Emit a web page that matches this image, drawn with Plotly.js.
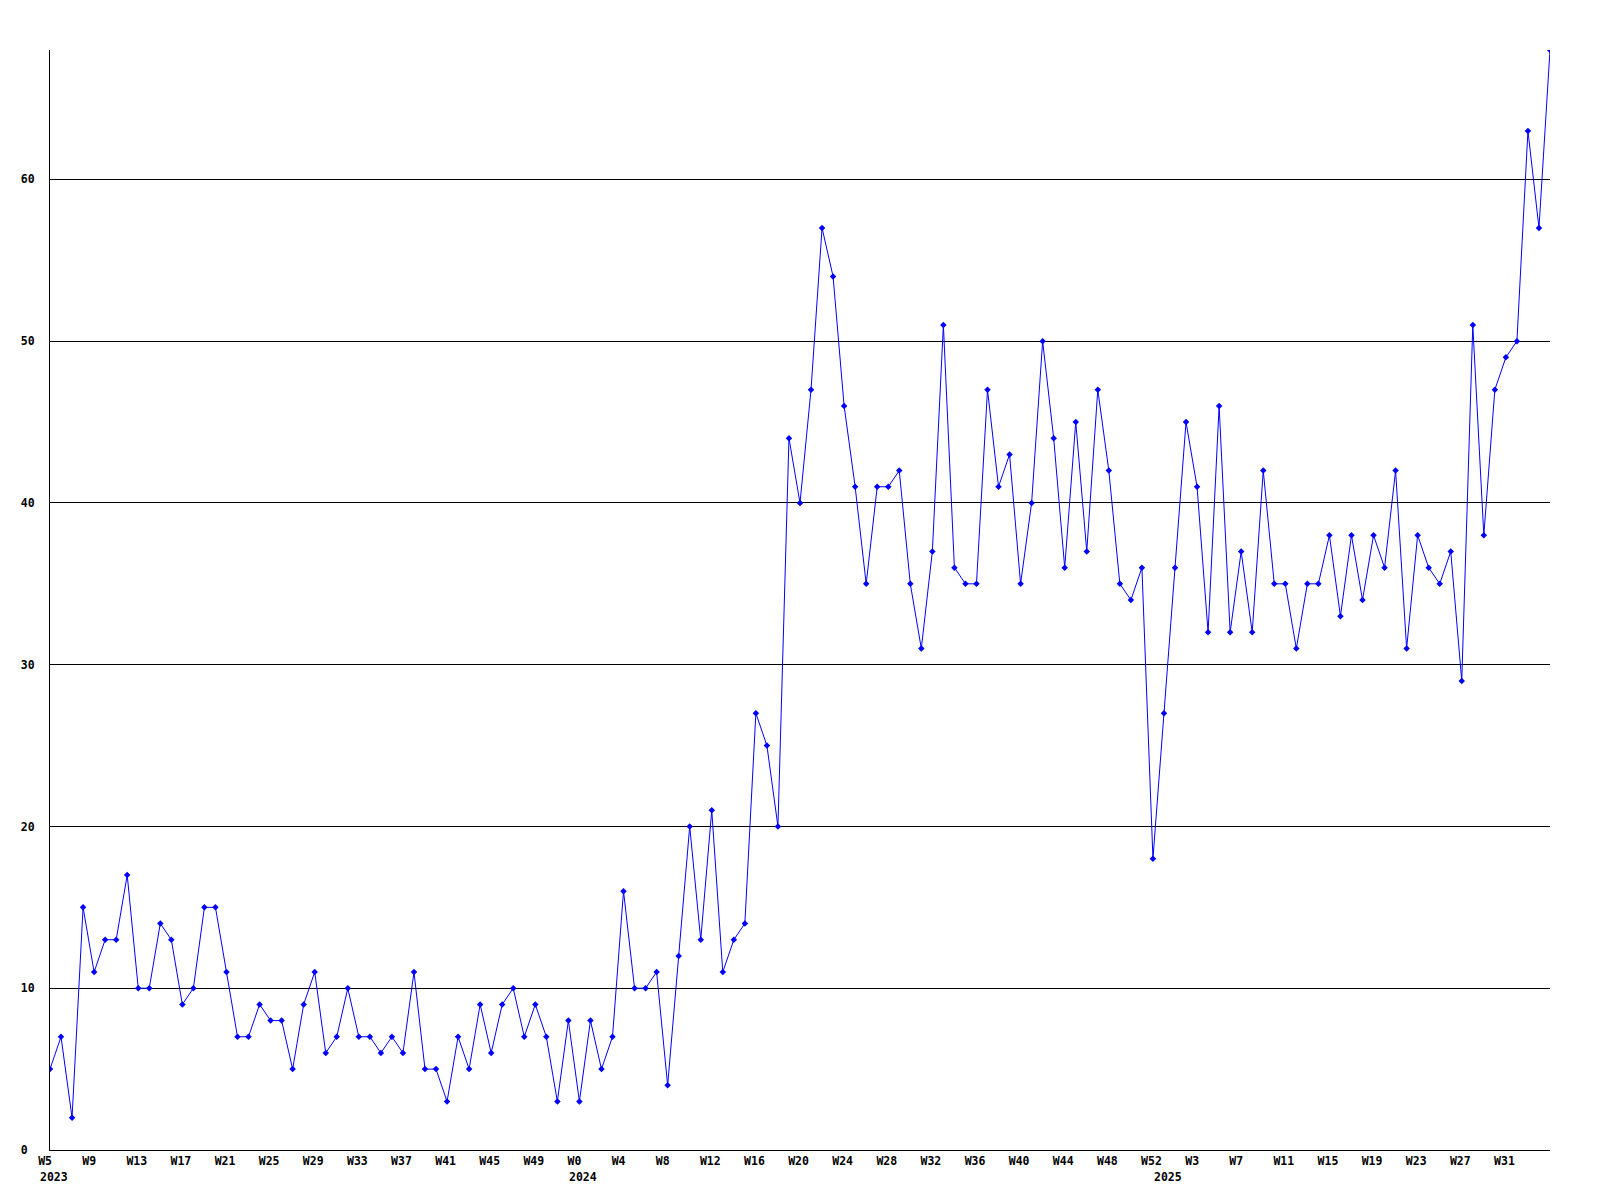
<!DOCTYPE html>
<html>
<head>
<meta charset="utf-8">
<script src="https://cdn.plot.ly/plotly-3.0.1.min.js"></script>
<style>
  html, body { margin: 0; padding: 0; background: #fff; }
  #chart { width: 1600px; height: 1200px; }
</style>
</head>
<body>
<div id="chart"></div>
<script>
// Weeks covered by the series (one point per week)
const weeks2023 = [5,6,7,8,9,10,11,12,13,14,15,16,17,18,19,20,21,22,23,24,25,26,27,28,29,30,31,32,33,34,35,36,37,38,39,40,41,42,43,44,45,46,47,48,49,50,51,52];
const weeks2024 = [0,1,2,3,4,5,6,7,8,9,10,11,12,13,14,15,16,17,18,19,20,21,22,23,24,25,26,27,28,29,30,31,32,33,34,35,36,37,38,39,40,41,42,43,44,45,46,47,48,49,50,51,52];
const weeks2025 = [0,1,2,3,4,5,6,7,8,9,10,11,12,13,14,15,16,17,18,19,20,21,22,23,24,25,26,27,28,29,30,31,32,33,34,35];

// Weekly counts
const values = [
  5,7,2,15,11,13,13,17,10,10,14,13,9,10,15,15,11,7,7,9,8,8,5,9,11,6,7,10,7,7,6,7,6,11,5,5,3,7,5,9,6,9,10,7,9,7,3,8,
  3,8,5,7,16,10,10,11,4,12,20,13,21,11,13,14,27,25,20,44,40,47,57,54,46,41,35,41,41,42,35,31,37,51,36,35,35,47,41,43,35,40,50,44,36,45,37,47,42,35,34,36,
  18,27,36,45,41,32,46,32,37,32,42,35,35,31,35,35,38,33,38,34,38,36,42,31,38,36,35,37,29,51,38,47,49,50,63,57,68
];

// Labelled weeks on the x axis
const tickWeeks = ['2023-W5','2023-W9','2023-W13','2023-W17','2023-W21','2023-W25','2023-W29','2023-W33','2023-W37','2023-W41','2023-W45','2023-W49',
  '2024-W0','2024-W4','2024-W8','2024-W12','2024-W16','2024-W20','2024-W24','2024-W28','2024-W32','2024-W36','2024-W40','2024-W44','2024-W48','2024-W52',
  '2025-W3','2025-W7','2025-W11','2025-W15','2025-W19','2025-W23','2025-W27','2025-W31'];
const tickLabels = ['W5','W9','W13','W17','W21','W25','W29','W33','W37','W41','W45','W49',
  'W0','W4','W8','W12','W16','W20','W24','W28','W32','W36','W40','W44','W48','W52',
  'W3','W7','W11','W15','W19','W23','W27','W31'];

// Year labels and the first week of each year
const yearStarts = ['2023-W5','2024-W0','2025-W0'];
const yearLabels = ['2023','2024','2025'];

const yTickVals = [0,10,20,30,40,50,60];
const yTickLabels = ['0','10','20','30','40','50','60'];

const categories = [].concat(
  weeks2023.map(w => '2023-W' + w),
  weeks2024.map(w => '2024-W' + w),
  weeks2025.map(w => '2025-W' + w)
);

const NB = '\u00a0';
const pad = (s, n) => s + NB.repeat(Math.max(0, n - s.length));

const FONT = { family: 'DejaVu Sans Mono, Liberation Mono, monospace', size: 11.5, color: '#000000', weight: 'bold' };

const trace = {
  type: 'scatter',
  mode: 'lines+markers',
  x: categories,
  y: values,
  line: { color: '#0000ff', width: 1 },
  marker: { color: '#0000ff', symbol: 'diamond', size: 5 },
  hoverinfo: 'skip'
};

const annotations = yearStarts.map((c, i) => ({
  x: c, xref: 'x', y: 0, yref: 'paper',
  text: yearLabels[i], showarrow: false,
  xanchor: 'left', yanchor: 'top',
  xshift: -12, yshift: -18,
  font: FONT
}));

const layout = {
  width: 1600, height: 1200,
  margin: { l: 50, r: 50, t: 50, b: 50 },
  paper_bgcolor: '#ffffff', plot_bgcolor: '#ffffff',
  showlegend: false,
  font: FONT,
  xaxis: {
    type: 'category',
    categoryorder: 'array', categoryarray: categories,
    range: [0, categories.length - 1],
    showgrid: false, zeroline: false,
    showline: true, linecolor: '#000000', linewidth: 1,
    ticks: '',
    tickmode: 'array', tickvals: tickWeeks, ticktext: tickLabels.map(s => pad(s, 4)),
    ticklabelshift: 2,
    tickfont: FONT,
    fixedrange: true
  },
  yaxis: {
    range: [0, 68],
    showgrid: true, gridcolor: '#000000', gridwidth: 1,
    zeroline: false,
    showline: true, linecolor: '#000000', linewidth: 1,
    ticks: '',
    tickmode: 'array', tickvals: yTickVals, ticktext: yTickLabels.map(s => pad(s, 2)),
    ticklabelstandoff: 12,
    tickfont: FONT,
    fixedrange: true
  },
  annotations: annotations
};

Plotly.newPlot('chart', [trace], layout, { displayModeBar: false, staticPlot: true });
</script>
</body>
</html>
